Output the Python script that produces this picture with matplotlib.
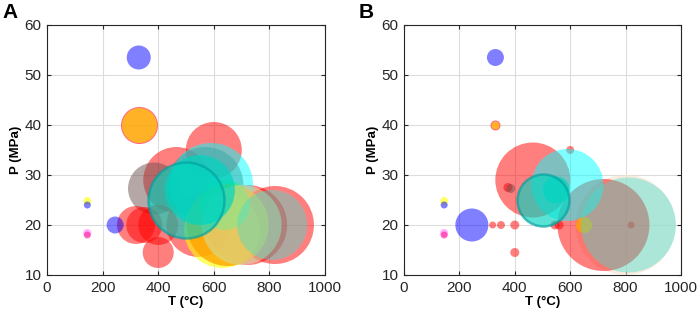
import matplotlib
matplotlib.use("Agg")
import matplotlib.pyplot as plt

# ---------------- data ----------------
T_vals = [800, 465, 600, 545, 560, 720, 820, 375, 385, 320, 350, 400, 400,
          570, 590, 630, 650, 640, 700, 810, 550, 500, 330, 330, 245,
          145, 145, 145, 145]
P_vals = [20, 29, 35, 20, 20, 20, 20, 27.5, 27.3, 20, 20, 20, 14.5,
          28, 28, 19, 20, 24, 20, 20, 27, 25, 53.5, 40, 20,
          24.8, 24, 18.4, 18]
groups = ["peach", "red", "red", "red", "red", "red", "red", "red", "grey", "red", "red", "red", "red",
          "grey", "cyan", "yellow", "orange", "green", "khaki", "aqua", "turq", "turq_edge",
          "blue", "orange_edge", "blue", "yellow", "blue", "violet", "pink"]
# bubble diameters for panel A and panel B
size_A = [0, 66, 56, 64, 30, 80, 78, 0, 52, 38, 36, 40, 31,
          76, 84, 76, 82, 50, 80, 70, 70, 76, 24, 36, 17,
          8, 7, 8, 7]
size_B = [100, 75, 8, 9, 9, 92, 7, 9, 9, 7, 8, 9, 9,
          0, 72, 0, 16, 0, 0, 95, 27, 52, 17, 9, 33,
          8, 7, 8, 7]

x_ticks = [0, 200, 400, 600, 800, 1000]
y_ticks = [10, 20, 30, 40, 50, 60]
panel_labels = ["A", "B"]

# ---------------- styles ----------------
styles = {
    "red": dict(c="#ff0000", a=0.5, ec="none", lw=0),
    "grey": dict(c="#6e5050", a=0.5, ec="none", lw=0),
    "cyan": dict(c="#00ffff", a=0.5, ec="none", lw=0),
    "turq": dict(c="#00d5c0", a=0.7, ec="none", lw=0),
    "turq_edge": dict(c="#00d5c0", a=0.65, ec="#00a0a0", lw=1.8),
    "yellow": dict(c="#ffff00", a=0.6, ec="none", lw=0),
    "orange": dict(c="#ffa500", a=0.8, ec="none", lw=0),
    "orange_edge": dict(c="#ffa500", a=0.85, ec="#ff6080", lw=0.8),
    "green": dict(c="#00ff7f", a=0.5, ec="none", lw=0),
    "khaki": dict(c="#d0e0a8", a=0.55, ec="none", lw=0),
    "aqua": dict(c="#40e0d0", a=0.42, ec="none", lw=0),
    "peach": dict(c="#f8e0c8", a=0.6, ec="none", lw=0),
    "blue": dict(c="#0000ff", a=0.5, ec="none", lw=0),
    "violet": dict(c="#ff80ff", a=0.6, ec="none", lw=0),
    "pink": dict(c="#ff1493", a=0.6, ec="none", lw=0),
}

plt.rcParams['font.family'] = ['Liberation Sans', 'DejaVu Sans']

DPI = 100
fig = plt.figure(figsize=(6.99, 3.16), dpi=DPI)
W, H = 699, 316
axes_px = [(47, 25, 278, 250), (404, 25, 277, 250)]

for k, (sizes, (lx, ty, w, h)) in enumerate(zip([size_A, size_B], axes_px)):
    ax = fig.add_axes([lx / W, 1 - (ty + h) / H, w / W, h / H])
    for t, p, g, d in zip(T_vals, P_vals, groups, sizes):
        if d <= 0:
            continue
        st = styles[g]
        ax.scatter([t], [p], s=(d * 72 / DPI) ** 2, c=st["c"], alpha=st["a"],
                   edgecolors=st["ec"], linewidths=st["lw"], zorder=3)
    ax.set_xlim(0, 1000)
    ax.set_ylim(10, 60)
    ax.set_xticks(x_ticks)
    ax.set_yticks(y_ticks)
    ax.grid(True, color="#dcdcdc", linewidth=0.8, zorder=0)
    ax.set_axisbelow(True)
    ax.tick_params(direction="in", length=3, width=0.8, colors="#262626",
                   labelsize=11, top=True, right=True, pad=4)
    for sp in ax.spines.values():
        sp.set_color("#262626")
        sp.set_linewidth(0.8)
    ax.set_xlabel("T (°C)", fontsize=9.5, fontweight="bold", labelpad=1)
    ax.set_ylabel("P (MPa)", fontsize=9.5, fontweight="bold", labelpad=2)
    fig.text((lx - 45) / W, 1 - 3 / H, panel_labels[k], fontsize=15,
             fontweight="bold", va="top", ha="left")

fig.savefig("out.png", dpi=DPI)
